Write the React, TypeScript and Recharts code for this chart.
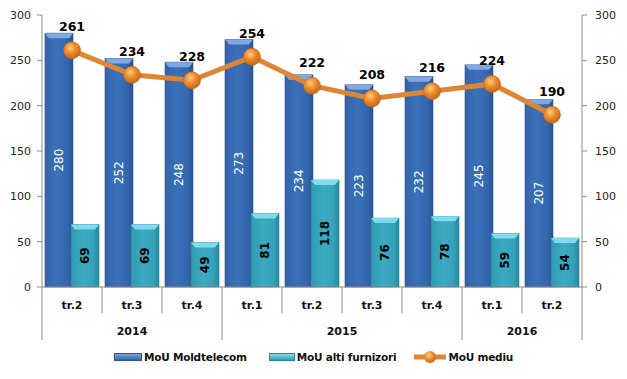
import React from 'react';
import { ComposedChart, Bar, Line, XAxis, YAxis, Legend, LabelList } from 'recharts';

const quarters = ['tr.2', 'tr.3', 'tr.4', 'tr.1', 'tr.2', 'tr.3', 'tr.4', 'tr.1', 'tr.2'];
const years = ['2014', '2014', '2014', '2015', '2015', '2015', '2015', '2016', '2016'];
const mouMoldtelecom = [280, 252, 248, 273, 234, 223, 232, 245, 207];
const mouAltiFurnizori = [69, 69, 49, 81, 118, 76, 78, 59, 54];
const mouMediu = [261, 234, 228, 254, 222, 208, 216, 224, 190];
const yTicks = [0, 50, 100, 150, 200, 250, 300];
const seriesNames = ['MoU Moldtelecom', 'MoU alti furnizori', 'MoU mediu'];

const data = quarters.map((q, i) => ({
  idx: i,
  q,
  year: years[i],
  mt: mouMoldtelecom[i],
  alt: mouAltiFurnizori[i],
  med: mouMediu[i],
}));

const W = 627;
const H = 379;
const M = { top: 15, right: 0, bottom: 5, left: 0 };
const LEFT_W = 42;
const RIGHT_W = 45;
const BAND = (W - M.left - M.right - LEFT_W - RIGHT_W) / data.length;
const HB = BAND / 2;
const AXIS = '#8c8c8c';
const FONT = '"DejaVu Sans", Verdana, sans-serif';

const QuarterTick = (props: any) => {
  const { x, y, index } = props;
  return (
    <g>
      <line x1={x - HB} y1={y} x2={x - HB} y2={y + 26} stroke={AXIS} strokeWidth={1} />
      {index === data.length - 1 && (
        <line x1={x + HB} y1={y} x2={x + HB} y2={y + 26} stroke={AXIS} strokeWidth={1} />
      )}
      <text x={x} y={y + 22} textAnchor="middle" fontSize={11} fontWeight="bold" fill="#111" fontFamily={FONT}>
        {quarters[index]}
      </text>
    </g>
  );
};

const YearTick = (props: any) => {
  const { x, y, index } = props;
  const yr = years[index];
  const isFirst = index === 0 || years[index - 1] !== yr;
  const isLast = index === years.length - 1;
  const count = years.filter((v) => v === yr).length;
  return (
    <g>
      {isFirst && <line x1={x - HB} y1={y} x2={x - HB} y2={y + 27} stroke={AXIS} strokeWidth={1} />}
      {isLast && <line x1={x + HB} y1={y} x2={x + HB} y2={y + 27} stroke={AXIS} strokeWidth={1} />}
      {isFirst && (
        <text x={x + (count - 1) * HB} y={y + 22} textAnchor="middle" fontSize={11} fontWeight="bold" fill="#111" fontFamily={FONT}>
          {yr}
        </text>
      )}
    </g>
  );
};

const makeBarShape = (grad: string, top: string, edge: string) => (props: any) => {
  const { x, y, width, height } = props;
  if (!height || height <= 0) return <g />;
  const b = Math.min(5, height);
  return (
    <g>
      <rect x={x} y={y} width={width} height={height} fill={`url(#${grad})`} stroke={edge} strokeWidth={0.6} />
      <polygon
        points={`${x},${y} ${x + width},${y} ${x + width - 4},${y + b} ${x + 4},${y + b}`}
        fill={top}
      />
    </g>
  );
};

const DarkBar = makeBarShape('gDark', '#7fa9e0', '#2b5490');
const TealBar = makeBarShape('gTeal', '#7fdcec', '#2a8498');

const makeBarLabel = (color: string, weight: string) => (props: any) => {
  const vb = props.viewBox || props;
  const x = vb.x ?? props.x;
  const y = vb.y ?? props.y;
  const w = vb.width ?? props.width;
  const h = vb.height ?? props.height;
  const cx = x + w / 2;
  const cy = y + h / 2;
  return (
    <text
      x={cx}
      y={cy}
      transform={`rotate(-90, ${cx}, ${cy})`}
      textAnchor="middle"
      dominantBaseline="central"
      fontSize={12}
      fontWeight={weight}
      fill={color}
      fontFamily={FONT}
    >
      {props.value}
    </text>
  );
};

const DarkLabel = makeBarLabel('#ffffff', 'normal');
const TealLabel = makeBarLabel('#000000', 'bold');

const LineLabel = (props: any) => {
  const { x, y, value } = props;
  return (
    <text x={x} y={y - 19} textAnchor="middle" fontSize={12.5} fontWeight="bold" fill="#000" fontFamily={FONT}>
      {value}
    </text>
  );
};

const OrangeDot = (props: any) => {
  const { cx, cy, index } = props;
  if (cx == null || cy == null) return <g key={`d${index}`} />;
  return (
    <circle key={`d${index}`} cx={cx} cy={cy} r={8.5} fill="url(#gOrange)" stroke="#c2651c" strokeWidth={0.6} />
  );
};

const LegendContent = () => {
  const item = (icon: React.ReactNode, label: string, mr: number) => (
    <div style={{ display: 'flex', alignItems: 'center', marginRight: mr }}>
      {icon}
      <span
        style={{
          marginLeft: 2,
          fontSize: 10.5,
          letterSpacing: -0.2,
          fontWeight: 'bold',
          fontFamily: FONT,
          color: '#111',
        }}
      >
        {label}
      </span>
    </div>
  );
  return (
    <div style={{ height: 34, display: 'flex', alignItems: 'center', justifyContent: 'center' }}>
      {item(
        <svg width={28} height={8}>
          <rect x={0.5} y={0.5} width={27} height={7} fill="url(#gDarkL)" stroke="#2b5490" />
        </svg>,
        seriesNames[0],
        22
      )}
      {item(
        <svg width={26} height={8}>
          <rect x={0.5} y={0.5} width={25} height={7} fill="url(#gTealL)" stroke="#2a8498" />
        </svg>,
        seriesNames[1],
        18
      )}
      {item(
        <svg width={32} height={14}>
          <defs>
            <radialGradient id="gOrangeL" cx="40%" cy="35%" r="65%">
              <stop offset="0%" stopColor="#ffd08a" />
              <stop offset="50%" stopColor="#f0922e" />
              <stop offset="100%" stopColor="#c8661a" />
            </radialGradient>
            <linearGradient id="gDarkL" x1="0" y1="0" x2="0" y2="1">
              <stop offset="0%" stopColor="#7fa9e0" />
              <stop offset="100%" stopColor="#2f5d9f" />
            </linearGradient>
            <linearGradient id="gTealL" x1="0" y1="0" x2="0" y2="1">
              <stop offset="0%" stopColor="#8fe4f0" />
              <stop offset="100%" stopColor="#2f95ab" />
            </linearGradient>
          </defs>
          <line x1={0} y1={7} x2={32} y2={7} stroke="#df8536" strokeWidth={5} />
          <circle cx={16} cy={7} r={6} fill="url(#gOrangeL)" />
        </svg>,
        seriesNames[2],
        0
      )}
    </div>
  );
};

export default function App() {
  return (
    <div style={{ position: 'absolute', left: 0, top: 0, width: W, height: H, background: '#fff' }}>
      <ComposedChart width={W} height={H} data={data} margin={M} barSize={28} barGap={-2} style={{ fontFamily: FONT }}>
        <defs>
          <linearGradient id="gDark" x1="0" y1="0" x2="1" y2="0">
            <stop offset="0%" stopColor="#3464aa" />
            <stop offset="45%" stopColor="#3b71ba" />
            <stop offset="80%" stopColor="#3466ad" />
            <stop offset="100%" stopColor="#2a5290" />
          </linearGradient>
          <linearGradient id="gTeal" x1="0" y1="0" x2="1" y2="0">
            <stop offset="0%" stopColor="#2f9bb1" />
            <stop offset="45%" stopColor="#3aabc1" />
            <stop offset="80%" stopColor="#35a2b8" />
            <stop offset="100%" stopColor="#2a8599" />
          </linearGradient>
          <radialGradient id="gOrange" cx="40%" cy="35%" r="65%">
            <stop offset="0%" stopColor="#ffcf88" />
            <stop offset="45%" stopColor="#f0912e" />
            <stop offset="100%" stopColor="#c8661a" />
          </radialGradient>
        </defs>
        <XAxis
          xAxisId="q"
          dataKey="idx"
          type="category"
          interval={0}
          height={26}
          tickSize={0}
          tickMargin={0}
          tickLine={false}
          axisLine={{ stroke: AXIS }}
          tick={<QuarterTick />}
        />
        <XAxis
          xAxisId="y"
          dataKey="idx"
          type="category"
          interval={0}
          height={27}
          tickSize={0}
          tickMargin={0}
          tickLine={false}
          axisLine={false}
          tick={<YearTick />}
        />
        <YAxis
          yAxisId="left"
          width={LEFT_W}
          domain={[0, 300]}
          ticks={yTicks}
          interval={0}
          tickSize={5}
          tickMargin={6}
          axisLine={{ stroke: AXIS }}
          tickLine={{ stroke: AXIS }}
          tick={{ fontSize: 11, fill: '#222', fontFamily: FONT }}
        />
        <YAxis
          yAxisId="right"
          orientation="right"
          width={RIGHT_W}
          domain={[0, 300]}
          ticks={yTicks}
          interval={0}
          tickSize={5}
          tickMargin={8}
          axisLine={{ stroke: AXIS }}
          tickLine={{ stroke: AXIS }}
          tick={{ fontSize: 11, fill: '#222', fontFamily: FONT }}
        />
        <Legend verticalAlign="bottom" content={<LegendContent />} />
        <Bar xAxisId="q" yAxisId="left" dataKey="mt" name={seriesNames[0]} fill="#3a6db4" shape={DarkBar} isAnimationActive={false}>
          <LabelList dataKey="mt" content={DarkLabel} />
        </Bar>
        <Bar xAxisId="q" yAxisId="left" dataKey="alt" name={seriesNames[1]} fill="#38a7bd" shape={TealBar} isAnimationActive={false}>
          <LabelList dataKey="alt" content={TealLabel} />
        </Bar>
        <Line
          xAxisId="q"
          yAxisId="right"
          dataKey="med"
          name={seriesNames[2]}
          stroke="#df8536"
          strokeWidth={5}
          dot={OrangeDot}
          activeDot={false}
          isAnimationActive={false}
        >
          <LabelList dataKey="med" content={LineLabel} />
        </Line>
      </ComposedChart>
    </div>
  );
}
